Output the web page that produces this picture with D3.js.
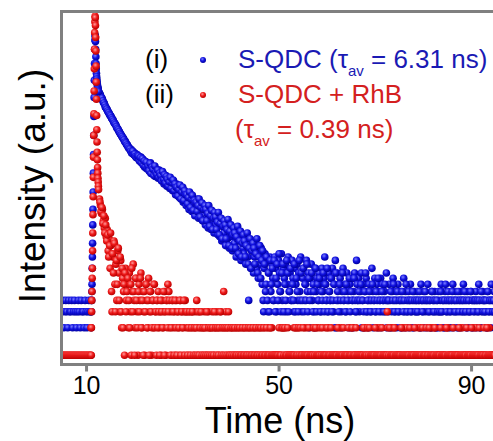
<!DOCTYPE html>
<html><head><meta charset="utf-8">
<script src="https://cdn.jsdelivr.net/npm/d3@7"></script>
<style>html,body{margin:0;padding:0;background:#fff;overflow:hidden}</style>
</head><body><svg id="c" width="493" height="441"></svg>
<script>
// ---------- DATA ----------
const xTicks = [10, 50, 90];
const xTitle = "Time (ns)";
const yTitle = "Intensity (a.u.)";

// channel grids (ns)
const gridStart = 5.0, gridStep = 0.2;     // main channels
const gridStart2 = 12.9, gridStep2 = 0.2;  // interleaved channels
const peakStart = 11.0, peakStep = 0.04;   // fine channels around the pulse

// (i) S-QDC, counts on main grid (null = covered by fine peak channels)
const blueCounts = [
  3,4,2,3,4,3,2,4,3,3, 4,2,3,4,3,2,3,4,3,2, 4,3,3,2,4,3,2,3,4,3,
  null,null,null,null,null,null,null,null,null,
  760,715,670,650,600,585,535,520,500,470,
  455,430,420,395,385,360,350,338,315,308,
  290,280,268,258,246,240,226,222,208,205,
  192,190,178,182,168,172,158,165,150,160,
  145,152,140,150,134,142,
  138,116,134,112,128,124,104,130,110,100,
  104,118,92,110,96,88,108,100,84,95,
  98,76,84,94,72,90,80,68,86,74,
  64,82,70,58,76,66,72,54,68,60,
  66,48,58,62,44,56,52,40,60,45,
  38,54,46,34,50,42,52,32,44,36,
  46,30,40,34,27,42,36,25,38,29,
  24,38,30,22,34,27,36,21,30,20,
  31,18,26,22,30,16,25,19,28,15,
  22,26,14,20,17,23,12,19,21,13,
  18,11,21,15,13,19,10,16,12,4,
  17,9,14,18,8,12,15,9,16,7,
  13,10,15,6,
  4,9,13,6,11,3,8,12,5,10,
  7,4,12,9,3,6,11,8,5,13,
  4,9,7,10,3,6,12,5,8,4,
  11,7,3,9,6,10,4,8,5,12,
  3,7,9,4,6,11,5,8,2,7,
  10,4,6,3,9,5,7,4,8,6,
  3,9,5,7,12,6,4,3,8,5,
  4,7,9,3,6,11,2,8,4,6,
  7,3,5,9,4,6,3,8,5,4,
  6,2,7,4,5,8,3,11,4,7,
  3,5,8,4,6,2,5,7,3,4,
  6,4,3,9,5,4,7,3,6,2,
  5,4,7,3,6,4,5,3,8,4,
  3,6,4,2,5,7,4,3,5,4,
  6,3,4,5,2,4,7,3,5,4,
  3,5,4,6,3,2,4,5,3,4,
  5,3,4,2,6,4,3,5,4,3,
  4,6,3,4,2,5,3,4,5,3,
  2,4,5,3,4,6,3,4,2,5,
  4,3,5,4,3,2,4,6,3,4,
  5,3,4,2,4,5,3,4,6,3,
  4,2,5,3,4,3,5,4,2,4,
  3,5,4,3,6,4,2,3,5,4,
  4,3,2,5,4,3,4,6,3,4,
  5,3
];
// (i) S-QDC, interleaved channels 12.9 … 94.9 ns
const blueCounts2 = [
  735,690,668,625,590,560,528,505,482,462,
  440,428,405,388,372,355,342,325,310,300,
  286,272,262,252,242,232,220,214,204,196,
  188,184,174,166,174,160,162,152,148,156,
  154,136,148,130,144,122,136,118,132,114,
  120,106,128,99,116,110,94,120,102,97,
  108,90,100,94,82,104,86,96,78,92,
  86,72,80,90,68,78,84,64,76,70,
  70,56,66,74,52,62,70,50,64,58,
  58,46,54,62,42,52,57,39,50,47,
  48,38,44,52,33,42,47,30,40,44,
  40,30,36,44,26,34,39,24,32,37,
  33,24,29,37,21,28,32,19,26,30,
  27,19,24,31,16,23,27,15,21,25,
  22,15,20,26,13,18,23,12,17,21,
  18,12,16,22,10,15,19,9,14,17,
  15,10,13,19,8,12,16,7,11,14,
  3,10,5,12,4,8,3,11,6,9,
  4,11,3,7,10,4,13,5,3,8,
  10,3,6,4,11,8,3,5,9,4,
  6,4,10,3,7,5,3,11,4,8,
  4,9,3,6,4,10,3,7,4,5,
  8,3,5,2,9,3,6,4,7,3,
  5,4,8,3,6,4,9,3,5,4,
  7,3,4,6,2,8,4,5,3,6,
  4,2,8,4,5,3,6,4,2,7,
  3,5,4,2,7,4,3,6,4,5,
  4,6,2,4,3,5,8,3,4,2,
  5,3,4,6,2,4,3,5,4,7,
  3,4,2,5,4,3,6,4,2,4,
  4,2,5,3,4,6,3,4,2,5,
  3,4,2,4,5,3,4,2,6,3,
  4,2,4,3,4,5,2,4,3,4,
  3,4,5,2,4,3,4,2,5,4,
  2,4,3,4,2,5,4,3,4,2,
  4,3,2,3,5,3,4,2,4,6,
  3,4,2,4,3,4,5,2,4,3,
  4,2,5,3,4,2,4,3,4,5,
  3,4,2,4,3,5,2,4,3,4,
  4,2,4,3,4,2,5,4,3,4,
  3,4,2,5,3,4,2,4,3,4,
  3
];
const bluePeak = [
  3,2,4,3,4,5,6,9,12,17,
  27,40,62,100,160,260,420,680,1050,1600,
  2300,2900,3300,3200,2800,2300,1900,1600,1400,1250,
  1150,1080,1020,970,930,900,870,850,830,810,
  790
];

// (ii) S-QDC + RhB
const redCounts = [
  1,1,1,1,1,1,1,1,1,1, 1,1,1,1,1,1,1,1,1,1, 1,1,1,1,1,1,1,1,1,1,
  null,null,null,null,null,null,null,null,null,
  52,44,36,40,30,25,32,20,24,14,
  19,9,16,3,12,18,6,10,4,14,
  8,3,11,2,7,5,1,9,4,6,
  2,8,3,1,5,10,4,2,7,3,
  1,6,4,8,2,5,3,1,6,4,
  2,7,3,5,1,4,2,6,3,1,
  4,5,2,3,1,4,2,3,5,1,
  4,6,5,2,3,1,4,2,3,1,
  4,3,2,1,4,3,2,1,3,4,
  2,1,3,2,1,3,2,3,1,2,
  3,4,1,2,3,1,2,1,2,3,
  1,2,1,3,2,1,2,3,1,2,
  1,2,3,1,2,1,3,2,1,5,
  2,3,1,2,3,1,2,
  1,2,1,1,2,1,2,1,1,2,
  1,1,2,1,2,1,1,2,1,1,
  2,1,1,2,1,2,1,1,2,1,
  1,2,1,1,2,1,1,1,2,1,
  2,1,2,1,1,1,1,1,1,1,
  1,1,2,1,2,1,2,1,1,1,
  1,1,1,1,1,2,1,2,1,2,
  1,1,1,1,1,1,2,1,2,1,
  1,1,1,1,1,2,1,1,2,1,
  2,1,1,1,1,1,1,1,2,1,
  1,2,1,1,1,1,1,1,1,1,
  1,1,2,1,2,1,1,1,1,1,
  1,1,1,1,2,1,2,1,1,1,
  1,1,1,1,1,1,1,2,1,2,
  1,2,1,1,1,1,1,1,1,1,
  1,1,2,1,2,1,1,1,1,1,
  1,1,3,1,1,1,1,2,1,2,
  1,1,1,1,1,1,1,1,2,1,
  2,1,2,1,1,1,1,1,1,1,
  1,1,1,1,2,1,2,1,1,1,
  1,1,1,1,1,1,1,2,1,2,
  1,2,1,1,1,1,1,1,1,1,
  1,1,1,2,1,2,1,1,1,1,
  1,1,1,1,1,1,1,1,2,1,
  2,1,1,1,1,1,1,1,1,1,
  1,1,2,1,2,1,1,1,1,1,
  1,1,1,1,1,1,2,1,2,1,
  1,1,1,1,1
];
const redCounts2 = [
  48,38,42,28,34,22,27,18,21,12,
  16,22,5,13,8,17,3,11,6,15,
  4,12,3,9,2,6,8,3,5,7,
  4,2,6,9,3,5,1,7,4,2,
  5,3,7,2,4,1,5,3,6,2,
  4,1,5,3,2,4,6,2,3,4,
  2,3,1,4,3,2,5,1,3,4,
  2,3,4,1,2,4,3,1,4,2,
  1,3,2,4,1,3,2,4,1,3,
  3,1,2,3,1,2,3,1,2,1,
  2,1,3,1,2,3,1,2,1,2,
  1,3,1,2,1,2,1,2,1,3,
  2,1,2,1,2,3,1,2,1,2,
  1,2,1,2,1,1,2,1,2,1,
  2,1,1,2,1,2,1,1,2,1,
  1,2,1,1,2,1,2,1,1,2,
  1,1,2,1,1,2,1,2,1,1,
  2,1,1,2,1,1,1,2,1,1,
  1,1,1,1,1,1,2,1,1,2,
  2,1,2,1,1,2,1,1,1,1,
  1,1,1,2,1,1,2,1,2,1,
  1,2,1,1,1,1,1,2,1,1,
  1,1,2,1,2,1,1,1,1,2,
  1,2,1,1,1,1,2,1,1,1,
  2,1,1,1,1,1,1,2,1,1,
  1,1,1,2,1,1,1,1,2,1,
  1,1,2,1,1,1,2,1,1,1,
  1,1,1,1,2,1,1,1,2,1,
  2,1,1,1,1,1,2,1,1,1,
  1,1,1,2,1,1,1,1,1,2,
  1,2,1,1,1,1,2,1,1,1,
  1,1,1,2,1,1,1,1,1,1,
  1,1,2,1,1,1,1,2,1,1,
  1,1,1,1,1,2,1,1,1,2,
  1,1,2,1,1,1,1,1,2,1,
  1,1,1,1,2,1,1,1,1,1,
  2,1,1,1,1,1,1,2,1,1,
  1,1,1,2,1,1,1,1,1,1,
  1,2,1,1,1,1,2,1,1,1,
  1,1,1,1,2,1,1,1,1,2,
  1,1,2,1,1,1,1,1,1,1,
  1
];
const redPeak = [
  1,2,1,2,3,4,5,7,9,14,
  22,35,55,90,150,260,450,800,1400,2300,
  3500,4600,5300,5100,4200,3100,2200,1500,1000,650,
  430,300,220,170,140,115,100,88,80,72,
  66
];

const seriesNames = ["S-QDC", "S-QDC + RhB"];
const seriesTau = ["6.31", "0.39"];
const seriesTags = ["(i)", "(ii)"];

// ---------- DRAW ----------
const FONT = "'Liberation Sans', Arial, Helvetica, sans-serif";
const svg = d3.select("#c");
const pLeft = 61.5, pTop = 11.5, pBottom = 364.5;

const x = d3.scaleLinear().domain([4.9, 100]).range([61.5, 519.2]);
const y = d3.scaleLog().domain([0.8, 5900]).range([364, 12]);

const defs = svg.append("defs");
function ball(id, light, mid, dark) {
  const g = defs.append("radialGradient").attr("id", id)
    .attr("cx", "40%").attr("cy", "35%").attr("r", "65%");
  g.append("stop").attr("offset", "0%").attr("stop-color", light);
  g.append("stop").attr("offset", "50%").attr("stop-color", mid);
  g.append("stop").attr("offset", "100%").attr("stop-color", dark);
}
ball("gb", "#7c80ff", "#1212e0", "#0000a0");
ball("gr", "#ff9a9a", "#ee1a1a", "#b80000");
defs.append("clipPath").attr("id", "clip").append("rect")
  .attr("x", pLeft).attr("y", pTop).attr("width", 520).attr("height", pBottom - pTop);

function pts(grid, grid2, peak) {
  const out = [];
  grid.forEach((c, i) => { if (c != null && c > 0) out.push({t: gridStart + i * gridStep, c}); });
  grid2.forEach((c, i) => { if (c != null && c > 0) out.push({t: gridStart2 + i * gridStep2, c}); });
  peak.forEach((c, i) => { if (c > 0) out.push({t: peakStart + i * peakStep, c}); });
  return out;
}
const R = 3.8;
const plot = svg.append("g").attr("clip-path", "url(#clip)");
[[blueCounts, blueCounts2, bluePeak, "url(#gb)"], [redCounts, redCounts2, redPeak, "url(#gr)"]].forEach(([g, g2, p, f]) => {
  plot.append("g").selectAll("circle").data(pts(g, g2, p)).join("circle")
    .attr("cx", d => x(d.t)).attr("cy", d => y(d.c)).attr("r", R).attr("fill", f);
});

// frame
svg.append("rect").attr("x", pLeft).attr("y", pTop).attr("width", 540).attr("height", pBottom - pTop)
  .attr("fill", "none").attr("stroke", "#808080").attr("stroke-width", 3);

// x axis
const ax = svg.append("g").attr("transform", `translate(0,${pBottom})`)
  .call(d3.axisBottom(x).tickValues(xTicks).tickSize(7).tickPadding(5).tickFormat(d3.format("d")));
ax.select(".domain").remove();
ax.selectAll(".tick line").attr("stroke", "#808080").attr("stroke-width", 3);
ax.selectAll(".tick text").attr("font-family", FONT).attr("font-size", 25).attr("fill", "#000");

svg.append("text").attr("x", 280).attr("y", 433).attr("text-anchor", "middle")
  .attr("font-family", FONT).attr("font-size", 36).text(xTitle);
svg.append("text").attr("transform", "translate(45,186) rotate(-90)").attr("text-anchor", "middle")
  .attr("font-family", FONT).attr("font-size", 37).text(yTitle);

// legend
const blueTxt = "#1a1ab4", redTxt = "#d42020";
const leg = svg.append("g").attr("font-family", FONT).attr("font-size", 26);
leg.append("text").attr("x", 145).attr("y", 68).text(seriesTags[0]);
leg.append("text").attr("x", 145).attr("y", 103).text(seriesTags[1]);
leg.append("circle").attr("cx", 203).attr("cy", 60).attr("r", 3).attr("fill", "url(#gb)");
leg.append("circle").attr("cx", 203).attr("cy", 95).attr("r", 3).attr("fill", "url(#gr)");
const t1 = leg.append("text").attr("x", 238).attr("y", 68).attr("fill", blueTxt);
t1.append("tspan").text(seriesNames[0] + " (\u03C4");
t1.append("tspan").attr("font-size", 15).attr("dy", 8).text("av");
t1.append("tspan").attr("dy", -8).text(" = " + seriesTau[0] + " ns)");
leg.append("text").attr("x", 238).attr("y", 103).attr("fill", redTxt).text(seriesNames[1]);
const t3 = leg.append("text").attr("x", 235).attr("y", 138).attr("fill", redTxt);
t3.append("tspan").text("(\u03C4");
t3.append("tspan").attr("font-size", 15).attr("dy", 8).text("av");
t3.append("tspan").attr("dy", -8).text(" = " + seriesTau[1] + " ns)");
</script></body></html>
